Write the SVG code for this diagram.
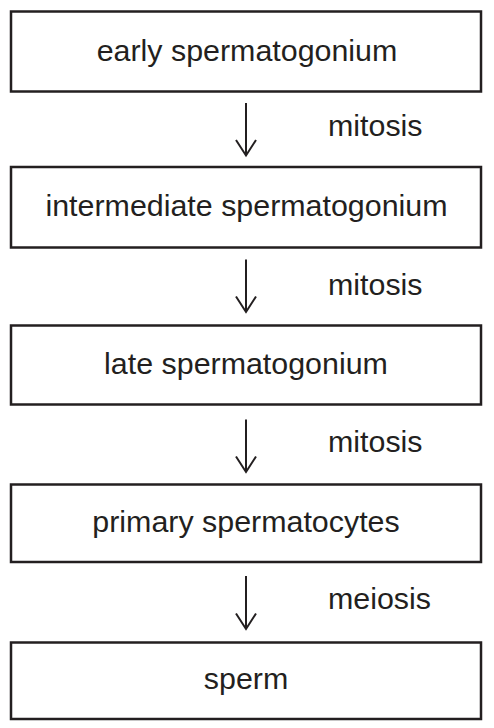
<svg xmlns="http://www.w3.org/2000/svg" width="494" height="728" viewBox="0 0 494 728">
<defs>
<style>
.box rect{fill:#fff;stroke:#231f20;stroke-width:2.5}
.box text{font-family:"Liberation Sans",Arial,sans-serif;font-size:30.4px;fill:#231f20;text-anchor:middle}
.conn line,.conn polyline{stroke:#231f20;stroke-width:2;fill:none}
.lbl{font-family:"Liberation Sans",Arial,sans-serif;font-size:30.4px;fill:#231f20}
</style>
</defs>
<rect width="494" height="728" fill="#fff"/>
<g id="n1" class="box"><rect x="11" y="11.5" width="470" height="80"/><text x="247" y="61">early spermatogonium</text></g>
<g id="n2" class="box"><rect x="11" y="167" width="470" height="80.5"/><text x="246.5" y="216">intermediate spermatogonium</text></g>
<g id="n3" class="box"><rect x="11" y="325.5" width="470" height="79"/><text x="246" y="373.5">late spermatogonium</text></g>
<g id="n4" class="box"><rect x="11" y="484.5" width="470" height="77.5"/><text x="246" y="531.5">primary spermatocytes</text></g>
<g id="n5" class="box"><rect x="11" y="642.5" width="470" height="76.5"/><text x="246" y="689">sperm</text></g>
<g id="connectors" class="conn">
<line x1="246" y1="103" x2="246" y2="155.5"/><polyline points="236,140 246,155.5 256,140"/>
<line x1="246" y1="259.5" x2="246" y2="312"/><polyline points="236,296.5 246,312 256,296.5"/>
<line x1="246" y1="419.5" x2="246" y2="472"/><polyline points="236,456.5 246,472 256,456.5"/>
<line x1="246" y1="576" x2="246" y2="629"/><polyline points="236,613.5 246,629 256,613.5"/>
<text class="lbl" x="328" y="136">mitosis</text>
<text class="lbl" x="328" y="295">mitosis</text>
<text class="lbl" x="328" y="451.5">mitosis</text>
<text class="lbl" x="328" y="609">meiosis</text>
</g>
</svg>
